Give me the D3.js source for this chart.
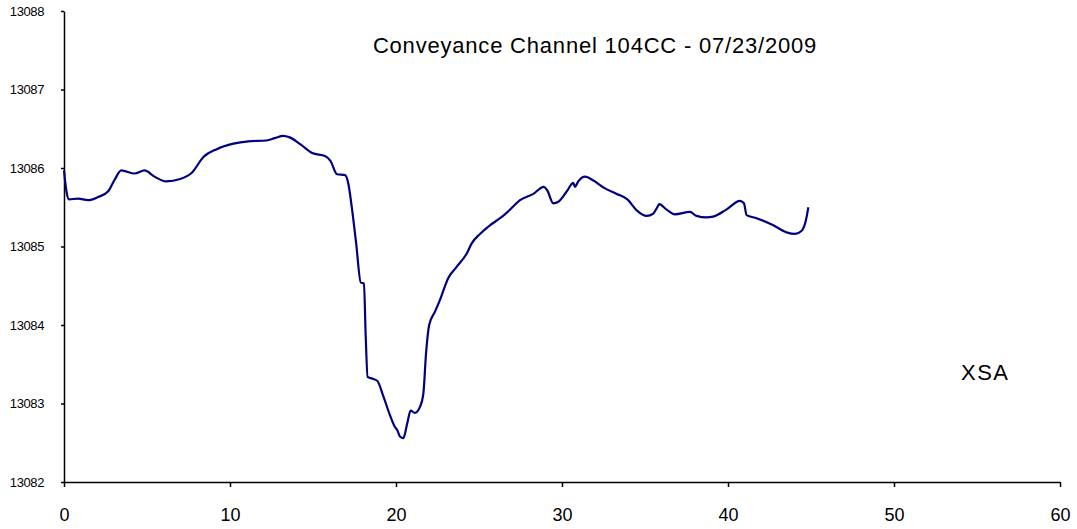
<!DOCTYPE html>
<html>
<head>
<meta charset="utf-8">
<script src="https://cdn.jsdelivr.net/npm/d3@7"></script>
<style>
  html, body { margin: 0; padding: 0; background: #fff; }
  svg { display: block; font-family: "Liberation Sans", Arial, sans-serif; }
</style>
</head>
<body>
<svg id="chart" width="1077" height="529"></svg>
<script>
// Water-surface elevation along the channel (station vs. elevation)
const station = [
  0, 0.15, 0.3, 0.85, 1.45, 2.05, 2.65, 3.05, 3.45, 4.25, 4.85, 5.45, 6.15, 7.0, 7.7,
  8.4, 9.2, 10.2, 11.1, 12.2, 12.7, 13.2, 13.6, 14.25, 14.95, 15.75, 16.05, 16.45, 16.93,
  17.13, 17.33, 17.6, 17.88, 18.07, 18.17, 18.29, 18.53, 18.87, 19.24, 19.64, 19.94, 20.08,
  20.24, 20.44, 20.68, 20.88, 21.14, 21.45, 21.65, 21.81, 22.0, 22.35, 22.65, 23.15, 23.65,
  24.26, 24.56, 25.06, 25.66, 26.27, 26.87, 27.47, 28.27, 28.9, 29.1, 29.48, 29.78, 30.28,
  30.68, 30.78, 30.98, 31.39, 31.89, 32.59, 33.3, 33.94, 34.5, 35.1, 35.5, 35.74, 35.86,
  36.3, 36.8, 37.71, 38.1, 38.7, 39.1, 39.9, 40.72, 40.96, 41.12, 41.72, 42.73, 43.53,
  44.04, 44.44, 44.7, 44.84
];
const elevation = [
  13085.97, 13085.70, 13085.60, 13085.61, 13085.59, 13085.63, 13085.70, 13085.85, 13085.97,
  13085.93, 13085.97, 13085.89, 13085.83, 13085.86, 13085.94, 13086.14, 13086.24, 13086.31,
  13086.34, 13086.35, 13086.38, 13086.41, 13086.39, 13086.30, 13086.19, 13086.15, 13086.09,
  13085.92, 13085.91, 13085.80, 13085.51, 13085.04, 13084.54, 13084.53, 13083.89, 13083.34,
  13083.32, 13083.29, 13083.09, 13082.85, 13082.70, 13082.66, 13082.58, 13082.56, 13082.75,
  13082.91, 13082.88, 13082.96, 13083.13, 13083.64, 13084.00, 13084.17, 13084.32, 13084.60,
  13084.74, 13084.91, 13085.04, 13085.16, 13085.27, 13085.36, 13085.47, 13085.59, 13085.67,
  13085.76, 13085.72, 13085.55, 13085.57, 13085.70, 13085.81, 13085.76, 13085.83, 13085.89,
  13085.84, 13085.74, 13085.67, 13085.60, 13085.46, 13085.39, 13085.42, 13085.50, 13085.54,
  13085.47, 13085.41, 13085.44, 13085.39, 13085.37, 13085.38, 13085.47, 13085.58, 13085.55,
  13085.40, 13085.36, 13085.27, 13085.18, 13085.16, 13085.20, 13085.34, 13085.50
];
const xTicks = [0, 10, 20, 30, 40, 50, 60];
const yTicks = [13082, 13083, 13084, 13085, 13086, 13087, 13088];
const titleText = "Conveyance Channel 104CC - 07/23/2009";
const seriesLabel = "XSA";

const svg = d3.select("#chart");

const x = d3.scaleLinear().domain([0, 60]).range([64, 1060]);
const y = d3.scaleLinear().domain([13082, 13088]).range([482, 11]);

// axes
const xAxis = svg.append("g")
  .attr("transform", `translate(0,${y(13082)})`)
  .call(d3.axisBottom(x).tickValues(xTicks).tickSize(5).tickPadding(21).tickSizeOuter(0));
xAxis.selectAll("text").attr("font-size", 18).attr("fill", "#000")
  .attr("font-family", "'Liberation Sans', Arial, sans-serif");

const yAxis = svg.append("g")
  .attr("transform", `translate(${x(0)},0)`)
  .call(d3.axisLeft(y).tickValues(yTicks).tickFormat(d3.format("d")).tickSize(3).tickPadding(17).tickSizeOuter(0));
yAxis.selectAll("text").attr("font-size", 13).attr("fill", "#000")
  .attr("letter-spacing", "-0.4px")
  .attr("font-family", "'Liberation Sans', Arial, sans-serif");

[xAxis, yAxis].forEach(g => {
  g.select(".domain").attr("stroke", "#000").attr("stroke-width", 1.5);
  g.selectAll(".tick line").attr("stroke", "#000").attr("stroke-width", 1.5);
});

// profile line
const pts = station.map((s, i) => [s, elevation[i]]);
svg.append("path")
  .datum(pts)
  .attr("fill", "none")
  .attr("stroke", "#000080")
  .attr("stroke-width", 2.2)
  .attr("stroke-linejoin", "round")
  .attr("d", d3.line().x(d => x(d[0])).y(d => y(d[1])).curve(d3.curveMonotoneX));

// title and series label
svg.append("text")
  .attr("x", 595).attr("y", 53)
  .attr("text-anchor", "middle")
  .attr("font-size", 22)
  .attr("letter-spacing", "0.8px")
  .attr("fill", "#000")
  .text(titleText);

svg.append("text")
  .attr("x", 961).attr("y", 380)
  .attr("font-size", 22)
  .attr("letter-spacing", "1.5px")
  .attr("fill", "#000")
  .text(seriesLabel);
</script>
</body>
</html>
